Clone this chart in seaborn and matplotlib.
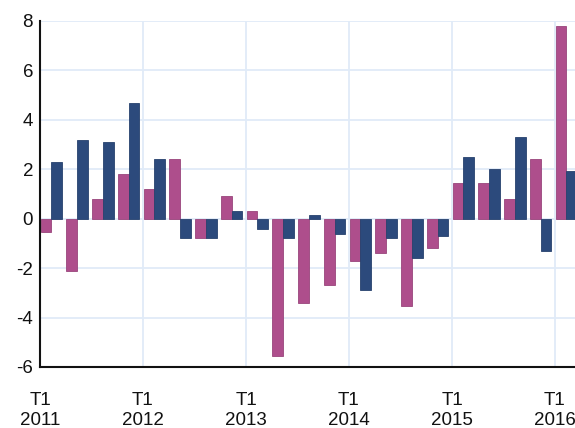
import matplotlib
matplotlib.use("Agg")
import matplotlib.pyplot as plt
import seaborn as sns
import pandas as pd

quarters = [f"T{q} {y}" for y in range(2011, 2016) for q in range(1, 5)] + ["T1 2016"]
series_a = [-0.55, -2.1, 0.8, 1.8, 1.2, 2.4, -0.8, 0.9, 0.3, -5.55, -3.4, -2.7,
            -1.7, -1.4, -3.55, -1.2, 1.45, 1.45, 0.8, 2.4, 7.8]
series_b = [2.3, 3.2, 3.1, 4.7, 2.4, -0.8, -0.8, 0.3, -0.4, -0.8, 0.15, -0.6,
            -2.9, -0.8, -1.6, -0.7, 2.5, 2.0, 3.3, -1.3, 1.95]
year_labels = ["T1\n2011", "T1\n2012", "T1\n2013", "T1\n2014", "T1\n2015", "T1\n2016"]
y_ticks = [-6, -4, -2, 0, 2, 4, 6, 8]

df = pd.DataFrame({
    "trimestre": quarters * 2,
    "valeur": series_a + series_b,
    "serie": ["A"] * len(quarters) + ["B"] * len(quarters),
})

sns.set_style("white")
plt.rcParams["font.family"] = ["Liberation Sans", "DejaVu Sans"]

fig = plt.figure(figsize=(5.75, 4.28), dpi=100)
ax = fig.add_axes([40 / 575, 1 - 367 / 428, 1 - 40 / 575, (367 - 21) / 428])

sns.barplot(data=df, x="trimestre", y="valeur", hue="serie", order=quarters,
            palette={"A": "#ae4e8c", "B": "#2c4a7c"}, width=0.84, dodge=True,
            saturation=1, legend=False, ax=ax)
for bar in ax.patches:
    fc = bar.get_facecolor()
    bar.set_edgecolor(tuple(v * 0.88 for v in fc[:3]) + (1,))
    bar.set_linewidth(0.6)

off = 0.44
ax.set_xticks([i - off for i in range(0, len(quarters), 4)])
ax.set_xticklabels(year_labels)
ax.set_xlim(-off, -off + 535 / 25.75)
ax.set_ylim(-6, 8)
ax.set_yticks(y_ticks)
ax.set_yticklabels([str(t) for t in y_ticks])
ax.set_xlabel("")
ax.set_ylabel("")

ax.grid(True, color="#e0ebf8", linewidth=1.3)
ax.set_axisbelow(True)
for s in ["top", "right"]:
    ax.spines[s].set_visible(False)
for s in ["left", "bottom"]:
    ax.spines[s].set_color("#111111")
    ax.spines[s].set_linewidth(1.5)
ax.tick_params(axis="both", length=0, labelsize=13.5, colors="#111111")
ax.tick_params(axis="x", pad=18)
ax.tick_params(axis="y", pad=5)

fig.savefig("out.png", dpi=100)
